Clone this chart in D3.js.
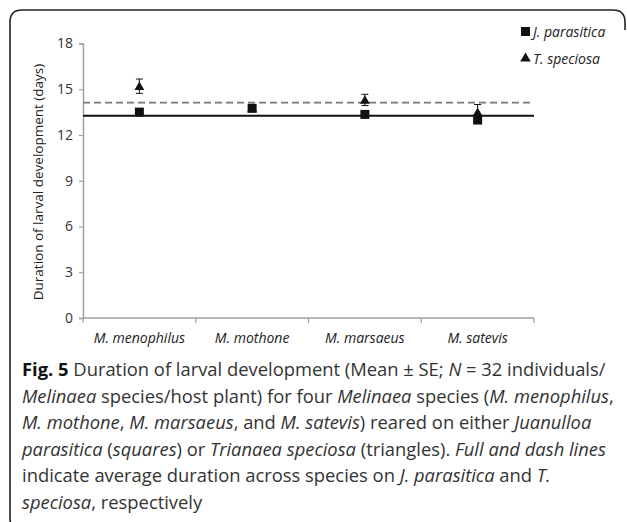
<!DOCTYPE html>
<html>
<head>
<meta charset="utf-8">
<script src="https://cdn.jsdelivr.net/npm/d3@7"></script>
<style>
  body { margin: 0; background: #fff; }
  text { font-family: "Open Sans", sans-serif; }
</style>
</head>
<body>
<div id="chart"></div>
<script>
// data
var species = ["M. menophilus", "M. mothone", "M. marsaeus", "M. satevis"];
var jpMean = [13.5, 13.75, 13.35, 12.98];
var jpSE = [0.2, 0.2, 0.2, 0.2];
var tsMean = [15.2, 13.75, 14.3, 13.5];
var tsSE = [0.47, 0.15, 0.37, 0.5];
var jpAverage = 13.27;
var tsAverage = 14.12;
var yTicks = [0, 3, 6, 9, 12, 15, 18];
var legendLabels = ["J. parasitica", "T. speciosa"];

var svgWidth = 627;
var svgHeight = 522;

var margin = { top: 43.5, right: 93, bottom: 204, left: 83 };
var width = svgWidth - margin.left - margin.right;
var height = svgHeight - margin.top - margin.bottom;

var svg = d3.select("#chart")
  .append("svg")
  .attr("width", svgWidth)
  .attr("height", svgHeight);

svg.append("rect")
  .attr("width", svgWidth)
  .attr("height", svgHeight)
  .attr("fill", "#fff");

// rounded frame, open at bottom and right like the page crop
svg.append("path")
  .attr("d", "M10,520 Q10,523 13,524 M10,520 L10,22 Q10,10 22,10 L613,10 Q625,10 625,22 L625,30")
  .attr("fill", "none")
  .attr("stroke", "#222")
  .attr("stroke-width", 1.6);

var chartGroup = svg.append("g")
  .attr("transform", `translate(${margin.left}, ${margin.top})`);

var xScale = d3.scaleBand()
  .domain(species)
  .range([0, width]);

var yScale = d3.scaleLinear()
  .domain([0, 18])
  .range([height, 0]);

// y axis
var leftAxis = d3.axisLeft(yScale)
  .tickValues(yTicks)
  .tickSize(4)
  .tickPadding(6);

var yAxis = chartGroup.append("g").call(leftAxis);
yAxis.select(".domain").attr("stroke", "#a0a0a0").attr("stroke-width", 1.5);
yAxis.selectAll(".tick line").attr("stroke", "#a0a0a0").attr("stroke-width", 1.2);
yAxis.selectAll(".tick text")
  .attr("font-family", "Open Sans")
  .attr("font-size", "14px")
  .attr("fill", "#333");

// x axis: ticks at band edges
var xAxis = chartGroup.append("g")
  .attr("transform", `translate(0, ${height})`);

xAxis.append("line")
  .attr("x1", 0).attr("x2", width)
  .attr("y1", 0).attr("y2", 0)
  .attr("stroke", "#a0a0a0")
  .attr("stroke-width", 1.5);

var edges = species.map(d => xScale(d)).concat([width]);
xAxis.selectAll(".edge")
  .data(edges)
  .enter()
  .append("line")
  .attr("x1", d => d).attr("x2", d => d)
  .attr("y1", 0).attr("y2", 5)
  .attr("stroke", "#a0a0a0")
  .attr("stroke-width", 1.2);

xAxis.selectAll(".cat")
  .data(species)
  .enter()
  .append("text")
  .attr("x", d => xScale(d) + xScale.bandwidth() / 2)
  .attr("y", 25)
  .attr("text-anchor", "middle")
  .attr("font-size", "14px")
  .attr("font-style", "italic")
  .attr("fill", "#222")
  .text(d => d);

// y label
chartGroup.append("text")
  .attr("transform", "rotate(-90)")
  .attr("x", -(yScale(0) - 136))
  .attr("y", -40)
  .attr("text-anchor", "middle")
  .attr("font-size", "13.5px")
  .attr("fill", "#222")
  .text("Duration of larval development (days)");

// average lines
chartGroup.append("line")
  .attr("x1", 0).attr("x2", width)
  .attr("y1", yScale(tsAverage)).attr("y2", yScale(tsAverage))
  .attr("stroke", "#777")
  .attr("stroke-width", 1.6)
  .attr("stroke-dasharray", "7,4");

chartGroup.append("line")
  .attr("x1", 0).attr("x2", width)
  .attr("y1", yScale(jpAverage)).attr("y2", yScale(jpAverage))
  .attr("stroke", "#111")
  .attr("stroke-width", 2);

var cx = d => xScale(d) + xScale.bandwidth() / 2;
var triangle = d3.symbol().type(d3.symbolTriangle).size(42);

function errorBars(means, ses, cls) {
  var g = chartGroup.append("g").attr("class", cls);
  species.forEach(function(s, i) {
    var x = cx(s);
    var top = yScale(means[i] + ses[i]);
    var bot = yScale(means[i] - ses[i]);
    g.append("line").attr("x1", x).attr("x2", x).attr("y1", top).attr("y2", bot)
      .attr("stroke", "#111").attr("stroke-width", 1);
    [top, bot].forEach(function(y) {
      g.append("line").attr("x1", x - 3.5).attr("x2", x + 3.5).attr("y1", y).attr("y2", y)
        .attr("stroke", "#111").attr("stroke-width", 1);
    });
  });
}

// T. speciosa (triangles)
errorBars(tsMean, tsSE, "ts-err");
chartGroup.selectAll(".tri")
  .data(species)
  .enter()
  .append("path")
  .attr("d", triangle)
  .attr("transform", (d, i) => `translate(${cx(d)}, ${yScale(tsMean[i]) + 1})`)
  .attr("fill", "#111");

// J. parasitica (squares)
errorBars(jpMean, jpSE, "jp-err");
chartGroup.selectAll(".sq")
  .data(species)
  .enter()
  .append("rect")
  .attr("x", d => cx(d) - 4.5)
  .attr("y", (d, i) => yScale(jpMean[i]) - 4.5)
  .attr("width", 9)
  .attr("height", 9)
  .attr("fill", "#111");

// legend
var legend = svg.append("g").attr("transform", "translate(521, 0)");
legend.append("rect")
  .attr("x", 0).attr("y", 27)
  .attr("width", 9).attr("height", 9)
  .attr("fill", "#111");
legend.append("path")
  .attr("d", d3.symbol().type(d3.symbolTriangle).size(48))
  .attr("transform", "translate(4.5, 58.5)")
  .attr("fill", "#111");
legend.selectAll(".lt")
  .data(legendLabels)
  .enter()
  .append("text")
  .attr("x", 12)
  .attr("y", (d, i) => 36.5 + i * 27)
  .attr("font-size", "14px")
  .attr("font-style", "italic")
  .attr("fill", "#222")
  .text(d => d);

// caption
var captionLines = [
  [["Fig. 5", "b"], [" Duration of larval development (Mean \u00b1 SE; ", ""], ["N", "i"], [" = 32 individuals/", ""]],
  [["Melinaea", "i"], [" species/host plant) for four ", ""], ["Melinaea", "i"], [" species (", ""], ["M. menophilus", "i"], [",", ""]],
  [["M. mothone", "i"], [", ", ""], ["M. marsaeus", "i"], [", and ", ""], ["M. satevis", "i"], [") reared on either ", ""], ["Juanulloa", "i"]],
  [["parasitica", "i"], [" (", ""], ["squares", "i"], [") or ", ""], ["Trianaea speciosa", "i"], [" (triangles). ", ""], ["Full and dash lines", "i"]],
  [["indicate average duration across species on ", ""], ["J. parasitica", "i"], [" and ", ""], ["T.", "i"]],
  [["speciosa", "i"], [", respectively", ""]]
];

var caption = svg.append("g");
var capText = caption.selectAll("text")
  .data(captionLines)
  .enter()
  .append("text")
  .attr("x", 22)
  .attr("y", (d, i) => 376 + i * 26.5)
  .attr("font-size", "18px")
  .attr("fill", "#333");

capText.each(function(line) {
  var t = d3.select(this);
  line.forEach(function(part) {
    t.append("tspan")
      .attr("font-weight", part[1] === "b" ? "bold" : null)
      .attr("font-style", part[1] === "i" ? "italic" : null)
      .attr("fill", part[1] === "b" ? "#111" : null)
      .text(part[0]);
  });
});

// fit caption font so that the first line spans like the original
var firstW = capText.node().getComputedTextLength();
var capSize = 18 * 584 / firstW;
capText.attr("font-size", capSize + "px");
</script>
</body>
</html>
